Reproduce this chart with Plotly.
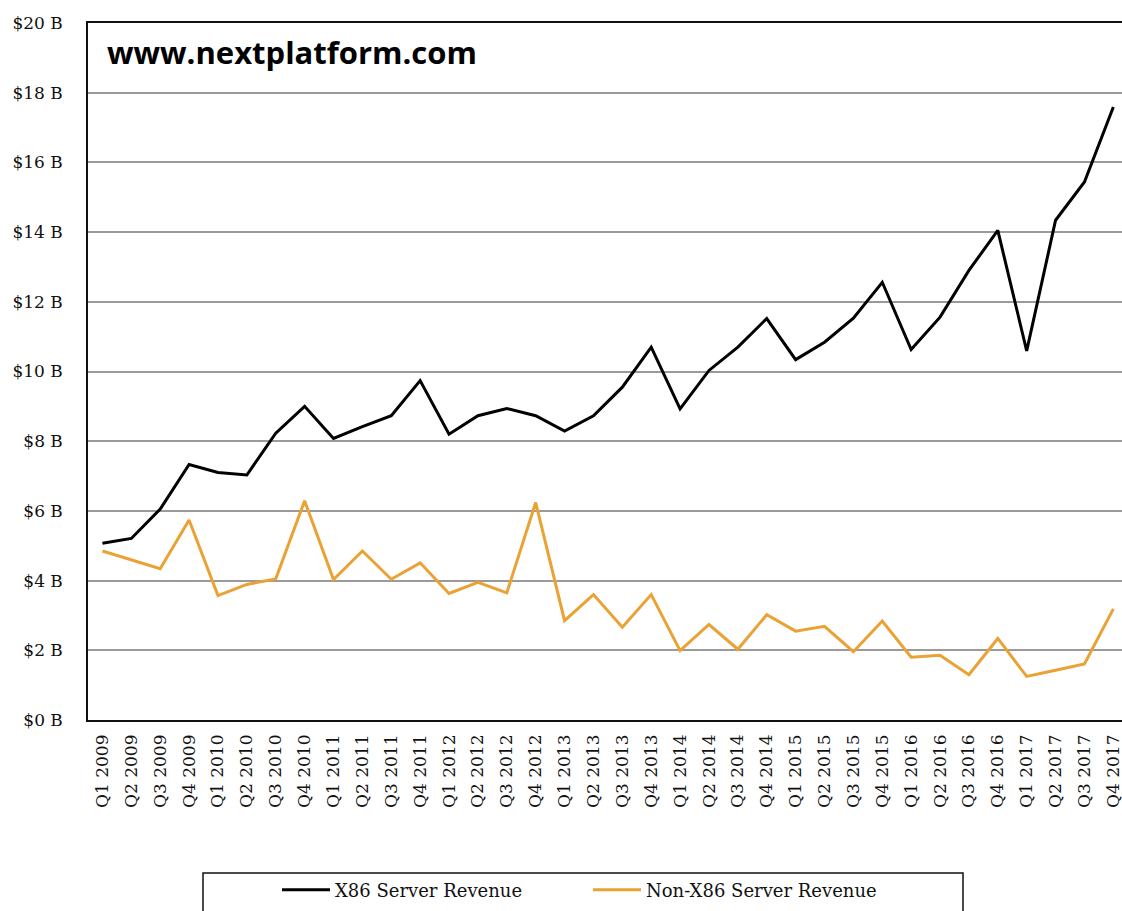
import plotly.graph_objects as go

quarters = [f"Q{q} {y}" for y in range(2009, 2018) for q in range(1, 5)]

x86_revenue = [5.07, 5.21, 6.05, 7.33, 7.10, 7.03, 8.23, 9.00,
               8.08, 8.42, 8.73, 9.74, 8.20, 8.73, 8.94, 8.73,
               8.29, 8.73, 9.55, 10.70, 8.93, 10.03, 10.70, 11.52,
               10.34, 10.84, 11.53, 12.56, 10.63, 11.56, 12.90, 14.05,
               10.59, 14.34, 15.44, 17.59]

non_x86_revenue = [4.85, 4.59, 4.34, 5.74, 3.57, 3.89, 4.05, 6.29,
                   4.03, 4.85, 4.04, 4.51, 3.63, 3.95, 3.65, 6.24,
                   2.85, 3.60, 2.66, 3.60, 1.99, 2.74, 2.03, 3.02,
                   2.55, 2.69, 1.96, 2.84, 1.80, 1.86, 1.30, 2.34,
                   1.25, 1.43, 1.61, 3.19]

W, H = 1122, 911
L, T, R, B = 88, 23, 0, 191
pw, ph = W - L - R, H - T - B

def px_x(x):
    return (x - L) / pw

def px_y(y):
    return (H - B - y) / ph

serif = "DejaVu Serif"

fig = go.Figure()
fig.add_trace(go.Scatter(x=quarters, y=x86_revenue, mode="lines",
                         name="X86 Server Revenue",
                         line=dict(color="#000000", width=3)))
fig.add_trace(go.Scatter(x=quarters, y=non_x86_revenue, mode="lines",
                         name="Non-X86 Server Revenue",
                         line=dict(color="#E9A233", width=3)))

fig.update_layout(
    width=W, height=H,
    margin=dict(l=L, r=R, t=T, b=B, pad=0),
    paper_bgcolor="white", plot_bgcolor="white",
    font=dict(family=serif, size=17, color="#111111"),
    showlegend=True,
    legend=dict(orientation="h", x=px_x(277), xanchor="left",
                y=px_y(890), yanchor="middle",
                bgcolor="rgba(0,0,0,0)", borderwidth=0,
                entrywidth=248, entrywidthmode="pixels",
                itemwidth=48,
                font=dict(family=serif, size=18, color="#111111")),
    xaxis=dict(type="category", range=[-0.5, 35.3],
               tickangle=-90, showgrid=False,
               showline=True, linecolor="#111111", linewidth=1.5,
               mirror=True, ticks="", ticklabelstandoff=6,
               tickfont=dict(family=serif, size=17, color="#111111")),
    yaxis=dict(range=[0, 20], dtick=2, tickprefix="$", ticksuffix=" B",
               showgrid=True, gridcolor="#9a9a9a", gridwidth=1.5,
               showline=True, linecolor="#111111", linewidth=1.5,
               zeroline=False, ticks="", ticklabelstandoff=20,
               tickfont=dict(family=serif, size=17, color="#111111")),
    shapes=[dict(type="rect", xref="paper", yref="paper",
                 x0=px_x(203), x1=px_x(963), y0=px_y(873), y1=px_y(918),
                 line=dict(color="#111111", width=1.5),
                 fillcolor="rgba(0,0,0,0)")],
    annotations=[dict(text="<b>www.nextplatform.com</b>", xref="paper",
                      yref="paper", x=px_x(105), y=px_y(52),
                      xanchor="left", yanchor="middle", showarrow=False,
                      font=dict(family="Open Sans", size=31, color="#000000"))],
)

fig.write_html("out.html",
               config={"displayModeBar": False},
               post_script="document.body.style.margin='0';"
                           "document.body.style.overflow='hidden';")
